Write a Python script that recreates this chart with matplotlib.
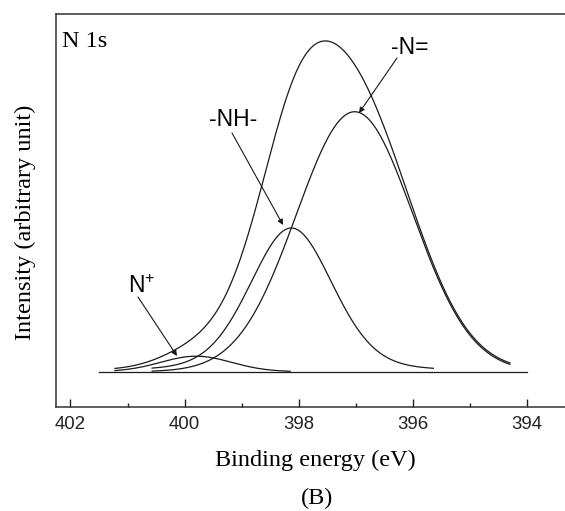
import numpy as np
import matplotlib
matplotlib.use('Agg')
import matplotlib.pyplot as plt
from matplotlib.ticker import MultipleLocator


# ------------------------------------------------------- #
# Datos

# componentes del ajuste N 1s
names = ['N+', '-NH-', '-N=']
centers = [399.80, 398.13, 397.02]     # eV
heights = [15.5, 143.7, 260.0]         # unidad arbitraria
hwhm = [0.73, 0.86, 1.20]              # eV
lor_frac = [0.0, 0.2, 0.0]             # fraccion lorentziana
x_start = [401.22, 400.57, 400.57]     # rango dibujado de cada pico
x_end = [398.15, 395.64, 394.30]

env_start, env_end = 401.22, 394.30
base_start, base_end = 401.50, 394.00

xticks = [402, 400, 398, 396, 394]


def peak(x, c, h, w, eta):
    u = (x - c) / w
    return h * ((1 - eta) * np.exp(-np.log(2) * u**2) + eta / (1 + u**2))


# ------------------------------------------------------- #
# Figura

plt.rcParams['font.family'] = ['Liberation Serif', 'DejaVu Serif']
plt.rcParams['mathtext.default'] = 'regular'

fig = plt.figure(figsize=(5.65, 5.11), dpi=100)
ax = fig.add_axes([56 / 565, 1 - 406.7 / 511, 509 / 565, (406.7 - 14) / 511])

lc = '#1a1a1a'
lw = 0.9

#
for i in range(len(names)):
    xx = np.linspace(x_start[i], x_end[i], 300)
    ax.plot(xx, peak(xx, centers[i], heights[i], hwhm[i], lor_frac[i]),
            color=lc, lw=lw)
# End for

# envolvente = suma de componentes
xx = np.linspace(env_start, env_end, 400)
env = sum(peak(xx, centers[i], heights[i], hwhm[i], lor_frac[i])
          for i in range(len(names)))
ax.plot(xx, env, color=lc, lw=lw)

ax.plot([base_start, base_end], [0, 0], color=lc, lw=lw)

# ejes
ax.set_xlim(402.254, 393.334)
ax.set_ylim(-35, 357.7)
ax.set_xticks(xticks)
ax.set_xticklabels([str(t) for t in xticks], family='Liberation Sans',
                   fontsize=13.4)
ax.xaxis.set_minor_locator(MultipleLocator(1))
ax.set_yticks([])
ax.tick_params(axis='x', which='major', direction='in', length=5.8,
               width=1.0, pad=7, colors='#222222')
ax.tick_params(axis='x', which='minor', direction='in', length=2.9,
               width=1.0, colors='#222222')
ax.spines['right'].set_visible(False)
for s in ['left', 'top', 'bottom']:
    ax.spines[s].set_linewidth(1.1)
    ax.spines[s].set_color('#333333')
# End for


def px(xp, yp):
    # pasar de pixeles de la imagen a datos
    return 402.254 - (xp - 56) / 57.06, 371.7 - yp


# textos
ax.text(*px(62, 31), 'N 1s', fontsize=17.5, ha='left', va='top')
sans = dict(family='Liberation Sans', fontsize=16.5, ha='center',
            va='center')
ax.text(*px(233, 119), '-NH-', **sans)
ax.text(*px(410, 47), '-N=', **sans)
ax.text(*px(142, 286), 'N$^{+}$', **sans)

# flechas
arrows = [((232, 133), (283, 225)),
          ((397, 58), (359, 113)),
          ((138, 297), (177, 356))]
for a, b in arrows:
    ax.annotate('', xy=px(*b), xytext=px(*a),
                arrowprops=dict(arrowstyle='-|>', color=lc, lw=0.8,
                                mutation_scale=8, shrinkA=0, shrinkB=0))
# End for

fig.text(315 / 565, 1 - 460 / 511, 'Binding energy (eV)', fontsize=17.5,
         ha='center', va='center')
fig.text(317 / 565, 1 - 498 / 511, '(B)', fontsize=17.5,
         ha='center', va='center')
fig.text(25 / 565, 1 - 222 / 511, 'Intensity (arbitrary unit)',
         fontsize=17.5, rotation=90, ha='center', va='center')

plt.savefig('out.png', dpi=100)
